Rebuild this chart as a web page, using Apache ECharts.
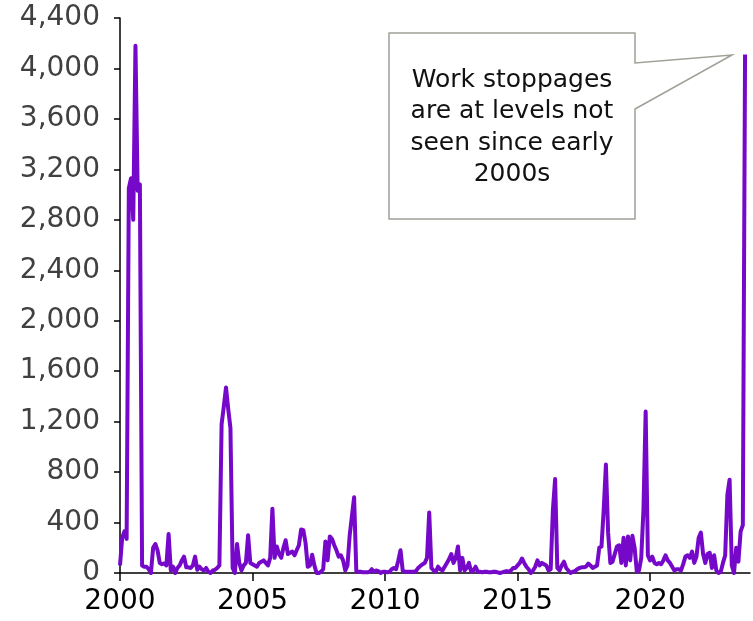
<!DOCTYPE html>
<html>
<head>
<meta charset="utf-8">
<script src="https://cdn.jsdelivr.net/npm/echarts@6/dist/echarts.min.js"></script>
<style>html,body{margin:0;padding:0;background:#fff}#c{width:753px;height:621px}</style>
</head>
<body>
<div id="c"></div>
<script>
// Monthly work stoppages, Jan 2000 .. Aug 2023
const startYear = 2000;
const y2000 = [60, 280, 330, 270, 3050, 3130, 2800, 4180, 3030, 3080, 60, 50];
const y2001 = [50, 30, 0, 200, 230, 180, 80, 70, 75, 60, 310, 20];
const y2002 = [50, 0, 40, 60, 100, 130, 45, 45, 40, 60, 130, 25];
const y2003 = [50, 30, 20, 40, 10, 0, 20, 25, 40, 60, 1180, 1320];
const y2004 = [1470, 1300, 1150, 40, 0, 230, 80, 20, 60, 80, 300, 80];
const y2005 = [70, 60, 50, 80, 90, 100, 80, 60, 120, 510, 120, 210];
const y2006 = [150, 120, 200, 260, 150, 160, 170, 140, 180, 220, 345, 340];
const y2007 = [240, 50, 60, 145, 60, 0, 0, 10, 30, 250, 100, 290];
const y2008 = [270, 220, 180, 130, 140, 100, 20, 60, 300, 450, 600, 10];
const y2009 = [10, 10, 5, 5, 5, 10, 30, 10, 20, 15, 0, 10];
const y2010 = [10, 5, 10, 30, 40, 30, 100, 180, 20, 10, 10, 10];
const y2011 = [10, 10, 15, 40, 55, 70, 80, 120, 480, 40, 20, 10];
const y2012 = [50, 30, 20, 50, 80, 110, 150, 80, 120, 210, 20, 120];
const y2013 = [20, 40, 80, 10, 20, 50, 10, 10, 5, 10, 10, 5];
const y2014 = [5, 10, 10, 5, 0, 5, 10, 15, 10, 20, 40, 40];
const y2015 = [60, 80, 115, 80, 50, 30, 0, 20, 50, 100, 60, 80];
const y2016 = [70, 60, 20, 30, 500, 745, 40, 20, 60, 90, 40, 20];
const y2017 = [0, 10, 15, 30, 40, 45, 45, 50, 75, 60, 40, 50];
const y2018 = [60, 200, 210, 500, 860, 320, 80, 90, 150, 210, 220, 80];
const y2019 = [280, 60, 290, 100, 295, 200, 10, 20, 120, 500, 1280, 140];
const y2020 = [100, 130, 80, 70, 80, 70, 100, 140, 100, 80, 50, 20];
const y2021 = [30, 30, 20, 70, 130, 140, 120, 170, 80, 130, 280, 320];
const y2022 = [150, 80, 150, 160, 40, 140, 20, 0, 10, 80, 140, 620];
const y2023 = [740, 60, 0, 200, 90, 330, 380, 4110];

const yearTicks = [2000, 2005, 2010, 2015, 2020];
const yTickMax = 4400;
const yTickStep = 400;
const calloutLines = ['Work stoppages', 'are at levels not', 'seen since early', '2000s'];

const values = [].concat(y2000, y2001, y2002, y2003, y2004, y2005, y2006, y2007, y2008,
  y2009, y2010, y2011, y2012, y2013, y2014, y2015, y2016, y2017, y2018, y2019, y2020,
  y2021, y2022, y2023);
const seriesData = values.map((v, i) => [startYear + i / 12, v]);

const FONT = 'DejaVu Sans';
const LINE = '#7609C9';
const chart = echarts.init(document.getElementById('c'), null, {renderer: 'canvas'});
chart.setOption({
  animation: false,
  backgroundColor: '#ffffff',
  grid: {left: 120, right: 3, top: 18, bottom: 48, containLabel: false},
  xAxis: {
    type: 'value', min: 2000, max: 2023.77, interval: 5,
    splitLine: {show: false},
    axisLine: {show: true, lineStyle: {color: '#000', width: 1.5}},
    axisTick: {show: true, length: 8, lineStyle: {color: '#000', width: 1.5}, customValues: yearTicks},
    axisLabel: {customValues: yearTicks, margin: 15, color: '#000', fontFamily: FONT, fontSize: 28,
      formatter: v => String(Math.round(v))}
  },
  yAxis: {
    type: 'value', min: 0, max: yTickMax, interval: yTickStep,
    splitLine: {show: false},
    axisLine: {show: true, lineStyle: {color: '#000', width: 1.5}},
    axisTick: {show: true, length: 6, lineStyle: {color: '#000', width: 1.5}},
    axisLabel: {margin: 20, color: '#404040', fontFamily: FONT, fontSize: 28,
      formatter: v => v.toLocaleString('en-US')}
  },
  series: [{
    type: 'line', data: seriesData, showSymbol: false, symbol: 'none',
    lineStyle: {color: LINE, width: 4, join: 'round'},
    itemStyle: {color: LINE}
  }],
  graphic: [
    {type: 'polygon', z: 100, shape: {points: [[389,33],[635,33],[635,63],[732,55],[635,109],[635,219],[389,219]]},
      style: {fill: '#ffffff', stroke: '#a0a098', lineWidth: 1.5}},
    ...calloutLines.map((t, i) => ({
      type: 'text', z: 101, x: 512, y: 80 + i * 31.5,
      style: {text: t, fill: '#111', font: '25px "' + FONT + '"', align: 'center', verticalAlign: 'middle'}
    }))
  ]
});
</script>
</body>
</html>
